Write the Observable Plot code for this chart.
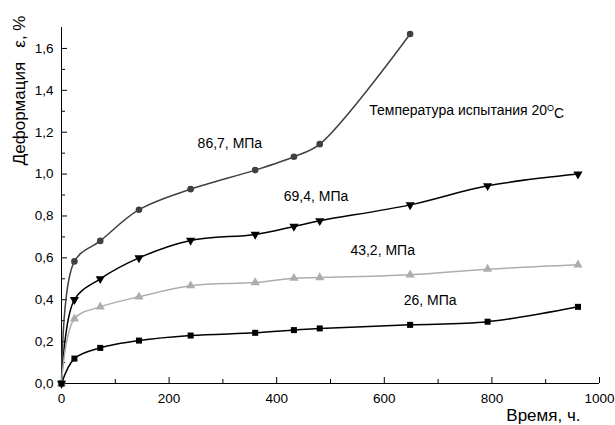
<!DOCTYPE html>
<html>
<head>
<meta charset="utf-8">
<script src="https://cdn.jsdelivr.net/npm/d3@7"></script>
<script src="https://cdn.jsdelivr.net/npm/@observablehq/plot@0.6"></script>
<style>
  html, body { margin: 0; padding: 0; background: #fff; }
  #chart svg { display: block; }
</style>
</head>
<body>
<div id="chart"></div>
<script>
// Time, hours
const times = [0, 24, 72, 144, 240, 360, 432, 480, 648, 792, 960];
// Deformation, % for each stress level
const s867 = [0, 0.583, 0.681, 0.83, 0.928, 1.019, 1.083, 1.143, 1.669];
const s694 = [0, 0.40, 0.50, 0.60, 0.683, 0.712, 0.75, 0.777, 0.853, 0.944, 1.0];
const s432 = [0, 0.309, 0.366, 0.414, 0.467, 0.482, 0.503, 0.506, 0.519, 0.546, 0.567];
const s26  = [0, 0.119, 0.17, 0.205, 0.229, 0.242, 0.255, 0.263, 0.28, 0.295, 0.366];

const seriesNames = ["86,7, МПа", "69,4, МПа", "43,2, МПа", "26, МПа"];
const seriesValues = [s867, s694, s432, s26];
const seriesColors = ["#404040", "#000000", "#adadad", "#000000"];
const seriesSymbols = ["circle", "triangle", "triangle", "square"];
const seriesRotate = [0, 180, 0, 0];

// Label anchor positions (data units)
const labelT = [253, 413, 537, 636];
const labelE = [1.145, 0.892, 0.634, 0.395];
const noteT = 572, noteE = 1.302;

const xMajor = [0, 200, 400, 600, 800, 1000];
const xMinor = [100, 300, 500, 700, 900];
const yMajor = [0, 0.2, 0.4, 0.6, 0.8, 1.0, 1.2, 1.4, 1.6];
const yMinor = [0.1, 0.3, 0.5, 0.7, 0.9, 1.1, 1.3, 1.5];

const rows = seriesNames.flatMap((name, i) =>
  seriesValues[i].map((v, j) => ({series: name, idx: i, t: times[j], e: v}))
);

const marks = [
  Plot.ruleY([0], {stroke: "#000", strokeWidth: 1}),
  Plot.ruleX([0], {stroke: "#000", strokeWidth: 1}),
  Plot.ruleX(xMajor, {y1: 0, y2: 0, insetTop: -6, stroke: "#000"}),
  Plot.ruleX(xMinor, {y1: 0, y2: 0, insetTop: -4, stroke: "#000"}),
  Plot.ruleY(yMajor, {x1: 0, x2: 0, insetRight: -6, stroke: "#000"}),
  Plot.ruleY(yMinor, {x1: 0, x2: 0, insetRight: -4, stroke: "#000"}),
  Plot.axisX({ticks: xMajor, tickSize: 0, tickPadding: 10, tickFormat: d => String(d), label: null}),
  Plot.axisY({ticks: yMajor, tickSize: 0, tickPadding: 8, tickFormat: d => d.toFixed(1).replace(".", ","), label: null})
];

seriesNames.forEach((name, i) => {
  const d = rows.filter(r => r.idx === i);
  marks.push(Plot.line(d, {x: "t", y: "e", curve: "catmull-rom", stroke: seriesColors[i], strokeWidth: 1.5}));
});
seriesNames.forEach((name, i) => {
  const d = rows.filter(r => r.idx === i);
  marks.push(Plot.dot(d, {x: "t", y: "e", symbol: seriesSymbols[i], rotate: seriesRotate[i],
    r: seriesSymbols[i] === "circle" ? 3.3 : 3.4, fill: seriesColors[i], stroke: "none"}));
});

marks.push(Plot.text(seriesNames, {x: (d, i) => labelT[i], y: (d, i) => labelE[i], text: d => d,
  textAnchor: "start", lineAnchor: "middle", fontSize: 14, fill: "#000"}));
marks.push(Plot.text(["Температура испытания 20"], {x: () => noteT, y: () => noteE, text: d => d,
  textAnchor: "start", lineAnchor: "middle", fontSize: 14, fill: "#000", className: "tempnote"}));
marks.push(Plot.text(["Время, ч."], {frameAnchor: "bottom-right", dx: -19, dy: 37, textAnchor: "end",
  lineAnchor: "bottom", fontSize: 17, fill: "#000"}));
marks.push(Plot.text(["Деформация\u00a0\u00a0\u00a0ε,\u00a0%"], {frameAnchor: "top-left", rotate: -90, dx: -42, dy: -12,
  textAnchor: "end", lineAnchor: "middle", fontSize: 17, fill: "#000"}));

const chart = Plot.plot({
  width: 615,
  height: 425,
  marginLeft: 61,
  marginRight: 16,
  marginTop: 27,
  marginBottom: 42,
  style: {fontFamily: "'Liberation Sans', Arial, sans-serif", fontSize: "13.5px", color: "#000", background: "#fff", overflow: "visible"},
  x: {domain: [0, 1000]},
  y: {domain: [0, 1.7]},
  marks
});

document.getElementById("chart").appendChild(chart);

// add superscript "O" and "C" to the temperature note
d3.select(chart).selectAll(".tempnote text").each(function() {
  const t = d3.select(this);
  t.append("tspan").attr("dy", "-0.45em").attr("font-size", "9px").text("O");
  t.append("tspan").attr("dy", "0.45em").text("C");
});
</script>
</body>
</html>
